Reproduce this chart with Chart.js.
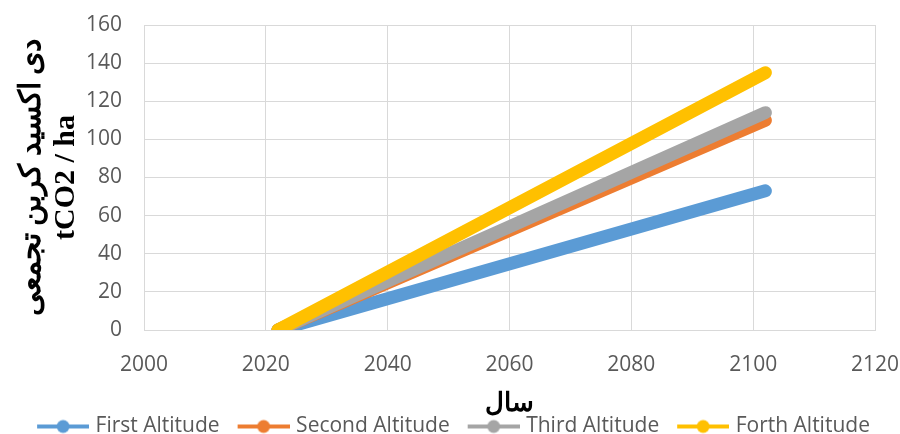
<!DOCTYPE html>
<html>
<head>
<meta charset="utf-8">
<script src="https://cdn.jsdelivr.net/npm/chart.js@4.4.1/dist/chart.umd.min.js"></script>
<style>
  html, body { margin: 0; padding: 0; background: #ffffff; }
  #wrap { width: 900px; height: 434px; position: relative; }
</style>
</head>
<body>
<div id="wrap"><canvas id="c" width="900" height="434"></canvas></div>
<script>
// ---- data ----
const years = [2022, 2102];
const firstAltitude  = [0, 73];
const secondAltitude = [0, 110];
const thirdAltitude  = [0, 114];
const forthAltitude  = [0, 135];
const seriesNames  = ['First Altitude', 'Second Altitude', 'Third Altitude', 'Forth Altitude'];
const seriesColors = ['#5b9bd5', '#ed7d31', '#a5a5a5', '#ffc000'];
const xTicks = [2000, 2020, 2040, 2060, 2080, 2100, 2120];
const yTicks = [0, 20, 40, 60, 80, 100, 120, 140, 160];
const yTitle = ['دی اکسید کربن تجمعی', 'tCO2 / ha'];
const xTitle = 'سال';

const allValues = [firstAltitude, secondAltitude, thirdAltitude, forthAltitude];

// legend symbol: line with a circle marker (image wider than the box so item gaps match)
function legendSymbol(color) {
  const cv = document.createElement('canvas');
  cv.width = 74; cv.height = 16;
  const g = cv.getContext('2d');
  g.strokeStyle = color;
  g.lineWidth = 4;
  g.beginPath();
  g.moveTo(22, 8); g.lineTo(74, 8);
  g.stroke();
  g.fillStyle = color;
  g.beginPath();
  g.arc(48, 8, 6.5, 0, Math.PI * 2);
  g.fill();
  return cv;
}
const symbols = seriesColors.map(legendSymbol);

const datasets = allValues.map((vals, i) => ({
  label: seriesNames[i],
  data: years.map((yr, k) => ({ x: yr, y: vals[k] })),
  borderColor: seriesColors[i],
  backgroundColor: seriesColors[i],
  borderWidth: 13,
  borderCapStyle: 'round',
  borderJoinStyle: 'round',
  pointRadius: 0,
  pointHoverRadius: 0,
  showLine: true,
  order: allValues.length - i
}));

const tickFont = { family: "'Open Sans', sans-serif", size: 21 };
const legendFont = { family: "'Open Sans', sans-serif", size: 21, lineHeight: 1 };
const xTitleFont = { family: "'Liberation Serif', 'Times New Roman', serif", size: 26, weight: 'bold', lineHeight: '30px' };
const yTitleFont = { family: "'Liberation Serif', 'Times New Roman', serif", size: 30, weight: 'bold', lineHeight: '34px' };

new Chart(document.getElementById('c'), {
  type: 'scatter',
  data: { datasets },
  options: {
    responsive: false,
    animation: false,
    devicePixelRatio: 1,
    layout: { padding: { left: 7, right: 18, top: 25, bottom: 0 } },
    plugins: {
      tooltip: { enabled: false },
      legend: {
        position: 'bottom',
        maxHeight: 18,
        labels: {
          usePointStyle: true,
          pointStyleWidth: 66,
          boxHeight: 16,
          padding: 0,
          color: '#595959',
          font: legendFont,
          generateLabels: (chart) => chart.data.datasets.map((ds, i) => ({
            text: ds.label,
            fillStyle: ds.borderColor,
            strokeStyle: ds.borderColor,
            lineWidth: 0,
            pointStyle: symbols[i],
            hidden: false,
            datasetIndex: i,
            fontColor: '#595959'
          }))
        }
      }
    },
    scales: {
      x: {
        type: 'linear',
        min: 2000, max: 2120,
        afterBuildTicks: (s) => { s.ticks = xTicks.map(v => ({ value: v })); },
        afterFit: (s) => { s.height = 86; s.paddingLeft = 0; s.paddingRight = 25; },
        ticks: { color: '#595959', font: tickFont, padding: 22, maxRotation: 0, callback: (v) => String(v) },
        grid: { color: '#d9d9d9', lineWidth: 1, drawTicks: false },
        border: { color: '#d9d9d9' },
        title: { display: true, text: xTitle, color: '#000000', font: xTitleFont, padding: { top: 0, bottom: -3 } }
      },
      y: {
        min: 0, max: 160,
        afterBuildTicks: (s) => { s.ticks = yTicks.map(v => ({ value: v })); },
        afterFit: (s) => { s.width = 137; s.paddingTop = 0; s.paddingBottom = 0; },
        ticks: { color: '#595959', font: tickFont, padding: 22, callback: (v) => String(v) },
        grid: { color: '#d9d9d9', lineWidth: 1, drawTicks: false },
        border: { color: '#d9d9d9' },
        title: { display: true, text: yTitle, color: '#000000', font: yTitleFont, padding: { top: 8, bottom: 0 } }
      }
    }
  }
});
</script>
</body>
</html>
